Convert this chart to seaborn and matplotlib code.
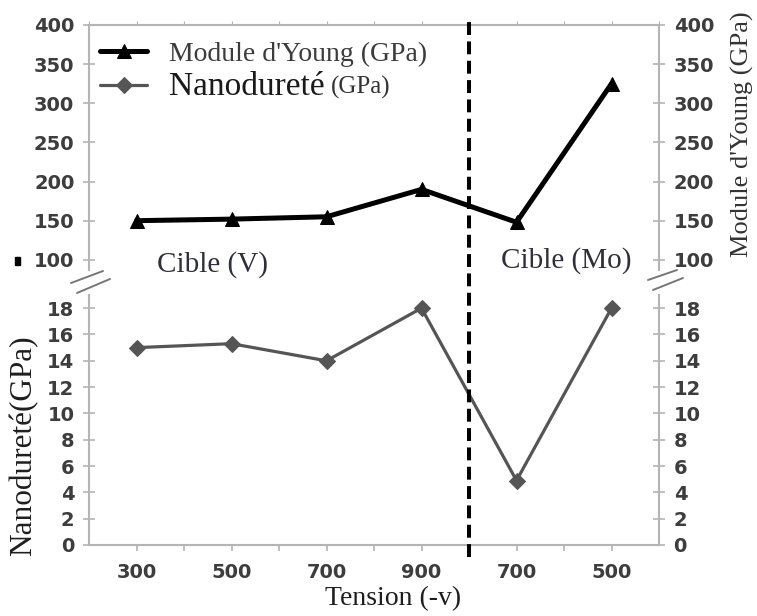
import numpy as np
import pandas as pd
import seaborn as sns
import matplotlib
matplotlib.use("Agg")
import matplotlib.pyplot as plt
from matplotlib.lines import Line2D
from matplotlib.patches import Rectangle
import matplotlib.transforms as mtransforms

# Measured values for each bias voltage (V target for the first four, Mo target for the last two)
tension_labels = ["300", "500", "700", "900", "700", "500"]
module_young = [150, 152, 155, 190, 148, 325]
nanodurete = [15.0, 15.3, 14.0, 18.0, 4.9, 18.0]
young_ticks = [100, 150, 200, 250, 300, 350, 400]
nano_ticks = [0, 2, 4, 6, 8, 10, 12, 14, 16, 18]

df = pd.DataFrame({
    "pos": np.arange(len(tension_labels)),
    "tension": tension_labels,
    "young": module_young,
    "nano": nanodurete,
})

sns.set_style("white")
plt.rcParams["font.family"] = ["DejaVu Sans"]

W, H = 757, 616
fig = plt.figure(figsize=(W / 100, H / 100), dpi=100)


def fx(px):
    return px / W


def fy(py):
    return 1 - py / H


ax_top = fig.add_axes([fx(89), fy(270), fx(659) - fx(89), fy(25) - fy(270)])
ax_bot = fig.add_axes([fx(89), fy(545), fx(659) - fx(89), fy(295) - fy(545)])

spine_col = "#b4b4b4"
tick_col = "#3d3d3d"
serif = ["Liberation Serif", "DejaVu Serif"]

# Young's modulus (upper panel)
sns.lineplot(data=df, x="pos", y="young", ax=ax_top, color="black", lw=3.6,
             marker="^", markersize=10.5, markeredgecolor="black",
             label="Module d'Young (GPa)", legend=False)
# Nano-hardness (lower panel)
sns.lineplot(data=df, x="pos", y="nano", ax=ax_bot, color="#555555", lw=2.3,
             marker="D", markersize=8.5, markeredgecolor="#555555",
             label="Nanodureté (GPa)", legend=False)

xlim = (-0.5, len(tension_labels) - 0.5)
for ax in (ax_top, ax_bot):
    ax.set_xlim(*xlim)
    ax.set_xlabel("")
    ax.set_ylabel("")
    ax.set_facecolor("white")
    for s in ax.spines.values():
        s.set_color(spine_col)
        s.set_linewidth(1.5)
    ax.tick_params(axis="y", which="both", left=True, right=True,
                   labelleft=True, labelright=True, direction="inout",
                   length=9, width=1.2, color=spine_col,
                   labelsize=14, labelcolor=tick_col, pad=6)

# Upper panel: broken axis, no bottom spine
ax_top.set_ylim(87, 400)
ax_top.set_yticks(young_ticks)
ax_top.spines["bottom"].set_visible(False)
ax_top.set_xticks(np.arange(-0.5, len(tension_labels), 0.5))
ax_top.tick_params(axis="x", bottom=False, labelbottom=False, top=True,
                   direction="out", length=3, color=spine_col)

# Lower panel
ax_bot.set_ylim(0, 19)
ax_bot.set_yticks(nano_ticks)
ax_bot.spines["top"].set_visible(False)
ax_bot.set_xticks(df["pos"])
ax_bot.set_xticklabels(tension_labels)
ax_bot.set_xticks(np.arange(0.5, len(tension_labels) - 1, 0.5)[::2], minor=True)
ax_bot.tick_params(axis="x", which="both", bottom=True, direction="out",
                   length=4, width=1.2, color=spine_col,
                   labelsize=14, labelcolor=tick_col, pad=9)

for ax in (ax_top, ax_bot):
    for lab in ax.get_yticklabels() + ax.get_xticklabels():
        lab.set_fontweight("bold")

# Axis titles
fig.text(fx(24), fy(446), "Nanodureté(GPa)", rotation=90, ha="center",
         va="center", family=serif, fontsize=22.5, color="#1e1e1e")
fig.text(fx(742), fy(134), "Module d'Young (GPa)", rotation=90, ha="center",
         va="center", family=serif, fontsize=19, color="#333333")
fig.text(fx(393), fy(599), "Tension (-v)", ha="center", va="center",
         family=serif, fontsize=20, color="#1e1e1e")

# Target annotations
ax_top.text(0.8, 93.5, "Cible (V)", ha="center", va="center", family=serif,
            fontsize=21, color="#2f2f3c")
ax_top.text(4.52, 98.5, "Cible (Mo)", ha="center", va="center", family=serif,
            fontsize=21, color="#2f2f3c")

# Separation between the two targets, spanning both panels
blend = mtransforms.blended_transform_factory(ax_bot.transData, fig.transFigure)
fig.add_artist(Line2D([3.5, 3.5], [fy(557), fy(20)], transform=blend,
                      color="black", lw=2.9, dashes=(3.2, 1.6)))

# Axis-break marks
for (x0, y0, x1, y1) in [(71, 283, 103, 271), (77, 293, 110, 279),
                         (648, 280, 677, 270), (653, 290, 683, 278)]:
    fig.add_artist(Line2D([fx(x0), fx(x1)], [fy(y0), fy(y1)],
                          transform=fig.transFigure, color="#777777", lw=1.4))

fig.add_artist(Rectangle((fx(15), fy(265)), fx(5), fy(257) - fy(265),
                         transform=fig.transFigure, color="black"))

# Legend with both series
h_top = ax_top.get_lines()[0]
h_bot = ax_bot.get_lines()[0]
leg = ax_top.legend([h_top, h_bot], ["Module d'Young (GPa)", "Nanodureté"],
                    loc="upper left", bbox_to_anchor=(-0.01, 1.0),
                    frameon=False, prop={"family": serif, "size": 20},
                    handlelength=1.7, handletextpad=0.8, labelspacing=0.15,
                    borderaxespad=0.2)
texts = leg.get_texts()
texts[0].set_color("#3c3c3c")
texts[1].set_fontsize(24)
texts[1].set_color("#1a1a1a")

fig.canvas.draw()
bb = texts[1].get_window_extent()
fig.text((bb.x1 + 6) / W, (bb.y0 + 3) / H, "(GPa)", family=serif,
         fontsize=18, color="#333333", ha="left", va="bottom")

fig.savefig("out.png", dpi=100, facecolor="white")
